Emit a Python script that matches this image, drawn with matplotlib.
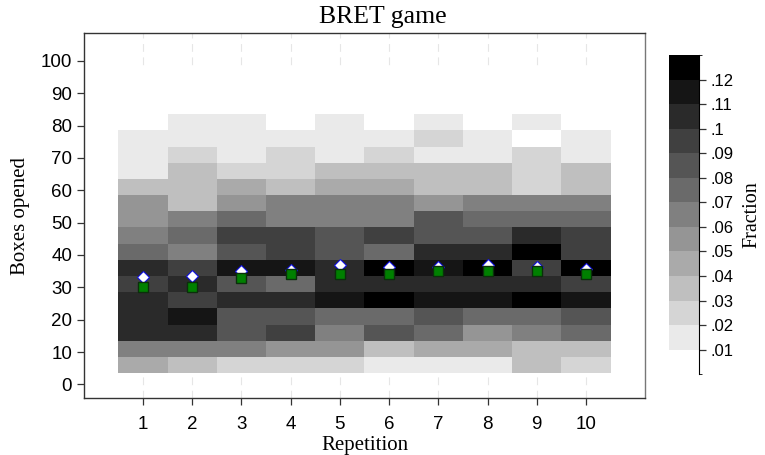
import numpy as np
import matplotlib
matplotlib.use("Agg")
import matplotlib.pyplot as plt
from matplotlib.colors import ListedColormap, BoundaryNorm
from matplotlib.ticker import FuncFormatter

# share of subjects per 5-box bin, one list per repetition (bins from 3.5 upward)
repetitions = [1, 2, 3, 4, 5, 6, 7, 8, 9, 10]
rep1 = [.045, .065, .105, .105, .105, .095, .105, .075, .065, .055, .055, .035, .015, .015, .015, .004]
rep2 = [.035, .065, .105, .115, .095, .105, .095, .065, .075, .065, .035, .035, .035, .025, .015, .015]
rep3 = [.025, .065, .085, .085, .105, .085, .115, .085, .095, .075, .055, .045, .025, .015, .015, .015]
rep4 = [.025, .055, .095, .085, .105, .075, .115, .095, .095, .065, .065, .035, .025, .025, .015, .004]
rep5 = [.025, .055, .065, .075, .115, .105, .105, .085, .085, .065, .065, .045, .035, .015, .015, .015]
rep6 = [.015, .035, .085, .075, .125, .105, .125, .075, .095, .065, .065, .045, .035, .025, .015, .004]
rep7 = [.015, .045, .075, .085, .115, .105, .115, .105, .085, .085, .055, .035, .035, .015, .025, .015]
rep8 = [.015, .045, .055, .075, .115, .105, .125, .105, .085, .075, .065, .035, .035, .015, .015, .004]
rep9 = [.035, .035, .065, .075, .125, .105, .095, .125, .105, .075, .065, .025, .025, .025, .004, .015]
rep10 = [.025, .035, .075, .085, .115, .095, .125, .095, .095, .075, .065, .035, .035, .015, .015, .004]

mean_boxes = [33.1, 33.5, 35.0, 35.5, 36.9, 36.2, 36.4, 36.9, 36.2, 35.7]
median_boxes = [30, 30, 33, 34, 34, 34, 35, 35, 35, 34]

# bin edges for boxes opened; the top rows stay empty
box_edges = np.arange(3.5, 99, 5)
rep_edges = np.arange(0.5, 11, 1)

grid = np.zeros((len(box_edges) - 1, len(repetitions)))
cols = np.array([rep1, rep2, rep3, rep4, rep5, rep6, rep7, rep8, rep9, rep10]).T
grid[:cols.shape[0]] = cols

# 13 grey steps, white -> black
levels = np.arange(0, 0.131, 0.01)
greys = [str(1 - i / 12) for i in range(13)]
cmap = ListedColormap(greys)
norm = BoundaryNorm(levels, cmap.N)

serif = "Liberation Serif"
sans = "Liberation Sans"
plt.rcParams["font.family"] = sans

fig = plt.figure(figsize=(7.65, 4.55), dpi=100)
ax = fig.add_axes([0.1098, 0.1246, 0.7333, 0.8035])

# light dashed grid behind the cells
for r in repetitions:
    ax.axvline(r, color="#e6e6e6", lw=0.8, dashes=(7, 5), zorder=0)

mesh = ax.pcolormesh(rep_edges, box_edges, grid, cmap=cmap, norm=norm, zorder=1)

ax.plot(repetitions, mean_boxes, ls="none", marker="D", ms=6, mfc="white",
        mec="#1010e0", mew=0.8, zorder=3)
ax.plot(repetitions, median_boxes, ls="none", marker="s", ms=6.5, mfc="#008000",
        mec="#0b2f0b", mew=1.0, zorder=4)

ax.set_xlim(-0.2, 11.2)
ax.set_ylim(-4.3, 108.7)
ax.set_xticks(repetitions)
ax.set_yticks(np.arange(0, 101, 10))
ax.tick_params(direction="out", length=5, width=0.9, labelsize=13.5, color="#333333")
ax.tick_params(axis="x", pad=8)

for side in ["left", "bottom", "top"]:
    ax.spines[side].set_color("#333333")
ax.spines["right"].set_color("#777777")
for s in ax.spines.values():
    s.set_linewidth(1.0)

# title centred on the whole figure
fig.text(0.5, 0.963, "BRET game", family=serif, fontsize=18.5, ha="center", va="center")
ax.set_xlabel("Repetition", family=serif, fontsize=15, labelpad=2)
ax.set_ylabel("Boxes opened", family=serif, fontsize=15, labelpad=8)

# colorbar on the right
cax = fig.add_axes([0.8745, 0.1774, 0.0392, 0.7018])
cbar_edges = np.concatenate([[0.002], np.arange(0.01, 0.121, 0.01), [0.127]])
cbar = fig.colorbar(mesh, cax=cax, boundaries=cbar_edges, spacing="proportional",
                    ticks=np.arange(0.01, 0.121, 0.01))
cbar.outline.set_visible(False)
cax.spines["right"].set_visible(True)
cax.yaxis.set_major_formatter(FuncFormatter(lambda v, p: ("%g" % round(v, 2)).lstrip("0")))
cax.tick_params(direction="out", length=5, width=0.9, labelsize=12, color="#333333")
cbar.set_label("Fraction", family=serif, fontsize=14.5, labelpad=6)

fig.savefig("out.png", dpi=100)
